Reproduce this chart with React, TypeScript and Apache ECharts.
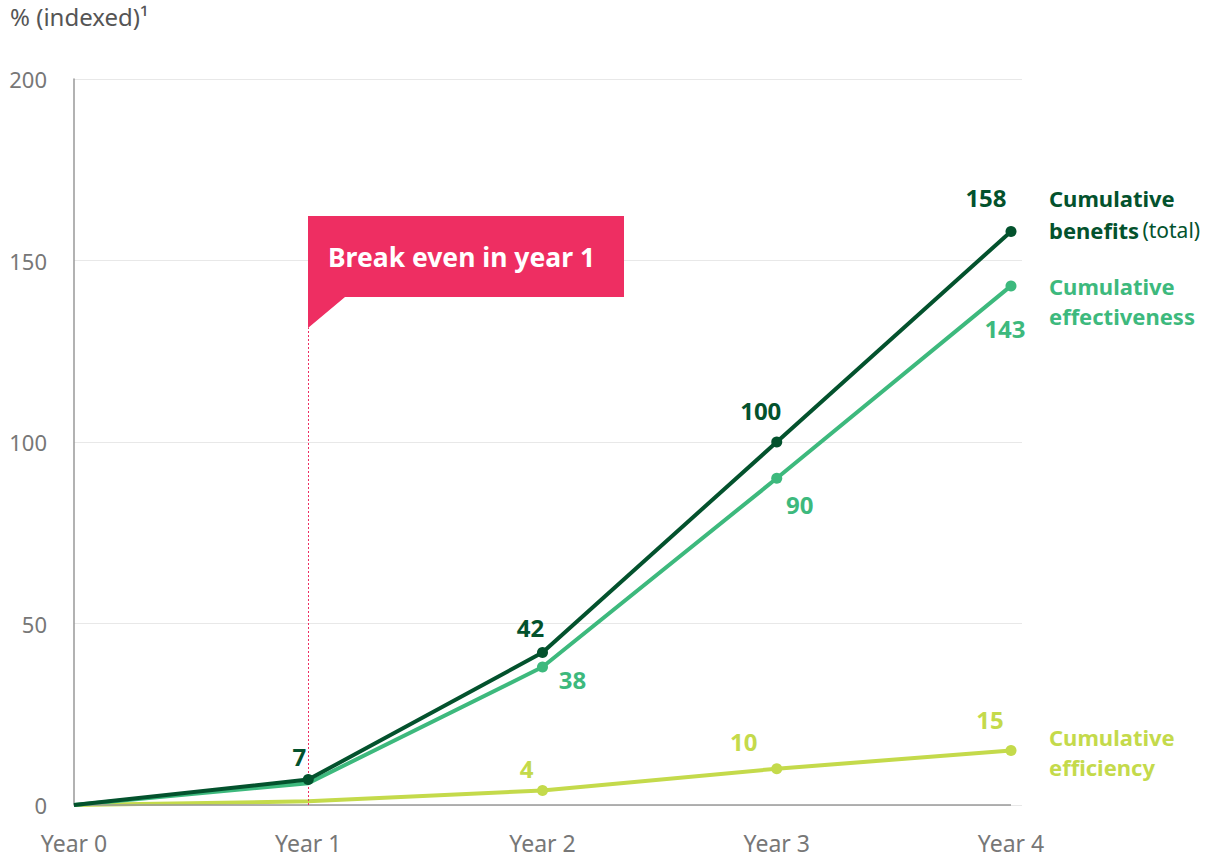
import React, { useEffect, useRef } from "react";
import * as echarts from "echarts";

const categories = ["Year 0", "Year 1", "Year 2", "Year 3", "Year 4"];
const benefits = [0, 7, 42, 100, 158];
const effectiveness = [0, 6, 38, 90, 143];
const efficiency = [0, 1, 4, 10, 15];
const yTicks = [0, 50, 100, 150, 200];

const DARK = "#03522d";
const MID = "#3db97d";
const LIGHT = "#c4da4b";
const PINK = "#ee2e62";
const FONT = "Noto Sans";

// label offsets (style only)
const benefitsLabelOffsets = [null, [-9, -1], [-12, -3], [-16, -9], [-25, -11]];
const effLabelOffsets = [null, null, [30, -10], [23, 4], [-6, 20]];
const efficiencyLabelOffsets = [null, null, [-16, 1], [-33, -5], [-21, -9]];

function buildData(values: number[], offsets: any[], position: string, color: string) {
  return values.map((v, i) => {
    const off = offsets[i];
    return {
      value: [i, v],
      symbol: off ? "circle" : "none",
      label: off
        ? {
            show: true,
            position,
            offset: off,
            color,
            fontFamily: FONT,
            fontWeight: "bold",
            fontSize: 24,
          }
        : { show: false },
    };
  });
}

export default function App() {
  const ref = useRef<HTMLDivElement>(null);
  useEffect(() => {
    document.body.style.margin = "0";
    const chart = echarts.init(ref.current!, null, { renderer: "svg" });
    const option: any = {
      animation: false,
      textStyle: { fontFamily: FONT },
      grid: { left: 74, right: 208, top: 79, bottom: 52, containLabel: false },
      xAxis: {
        type: "value",
        min: 0,
        max: 4.047,
        interval: 1,
        axisLine: { show: false },
        axisTick: { show: false },
        splitLine: { show: false },
        axisLabel: {
          color: "#777",
          fontSize: 23,
          fontFamily: FONT,
          margin: 26,
          formatter: (v: number) =>
            Number.isInteger(v) && categories[v] ? categories[v] : "",
        },
      },
      yAxis: {
        type: "value",
        min: yTicks[0],
        max: yTicks[yTicks.length - 1],
        interval: 50,
        axisLine: { show: true, lineStyle: { color: "#999", width: 1.5 } },
        axisTick: { show: false },
        splitLine: { show: true, lineStyle: { color: "#e8e8e8", width: 1 } },
        axisLabel: {
          color: "#777",
          fontSize: 22,
          fontFamily: FONT,
          margin: 27,
        },
      },
      series: [
        {
          name: "Cumulative efficiency",
          type: "line",
          data: buildData(efficiency, efficiencyLabelOffsets, "top", LIGHT),
          lineStyle: { color: LIGHT, width: 4 },
          itemStyle: { color: LIGHT },
          symbolSize: 11,
          z: 3,
          markLine: {
            silent: true,
            symbol: "none",
            label: { show: false },
            lineStyle: { color: "#999", width: 1.5, type: "solid" },
            data: [[{ coord: [0, 0] }, { coord: [4, 0] }]],
          },
        },
        {
          name: "Cumulative effectiveness",
          type: "line",
          data: buildData(effectiveness, effLabelOffsets, "bottom", MID),
          lineStyle: { color: MID, width: 4 },
          itemStyle: { color: MID },
          symbolSize: 11,
          z: 4,
        },
        {
          name: "Cumulative benefits",
          type: "line",
          data: buildData(benefits, benefitsLabelOffsets, "top", DARK),
          lineStyle: { color: DARK, width: 4 },
          itemStyle: { color: DARK },
          symbolSize: 11,
          z: 5,
          markLine: {
            silent: true,
            symbol: "none",
            label: { show: false },
            lineStyle: { color: PINK, width: 1, type: [2, 2] },
            data: [[{ coord: [1, 0] }, { coord: [1, 131.5] }]],
          },
        },
      ],
      graphic: [
        {
          type: "text",
          left: 10,
          top: 4,
          style: {
            text: "% (indexed)¹",
            fill: "#555",
            fontSize: 24,
            fontFamily: FONT,
          },
        },
        {
          type: "polygon",
          shape: {
            points: [
              [308, 216],
              [624, 216],
              [624, 297],
              [345, 297],
              [308, 328],
            ],
          },
          style: { fill: PINK },
          z: 10,
        },
        {
          type: "text",
          x: 328,
          y: 257,
          z: 11,
          style: {
            text: "Break even in year 1",
            fill: "#fff",
            fontSize: 26.5,
            fontWeight: "bold",
            fontFamily: FONT,
            verticalAlign: "middle",
          },
        },
        {
          type: "text",
          x: 1049,
          y: 182,
          style: {
            text: "{b|Cumulative}\n{b|benefits} {n|(total)}",
            rich: {
              b: { fontSize: 22, fontWeight: "bold", fill: DARK, fontFamily: FONT, lineHeight: 32 },
              n: { fontSize: 21, fontWeight: "normal", fill: DARK, fontFamily: FONT, lineHeight: 32 },
            },
          },
        },
        {
          type: "text",
          x: 1049,
          y: 271,
          style: {
            text: "Cumulative\neffectiveness",
            fill: MID,
            fontSize: 22,
            fontWeight: "bold",
            fontFamily: FONT,
            lineHeight: 30,
          },
        },
        {
          type: "text",
          x: 1049,
          y: 722,
          style: {
            text: "Cumulative\nefficiency",
            fill: LIGHT,
            fontSize: 22,
            fontWeight: "bold",
            fontFamily: FONT,
            lineHeight: 30,
          },
        },
      ],
    };
    chart.setOption(option);
    return () => chart.dispose();
  }, []);
  return <div ref={ref} style={{ width: 1230, height: 857 }} />;
}
